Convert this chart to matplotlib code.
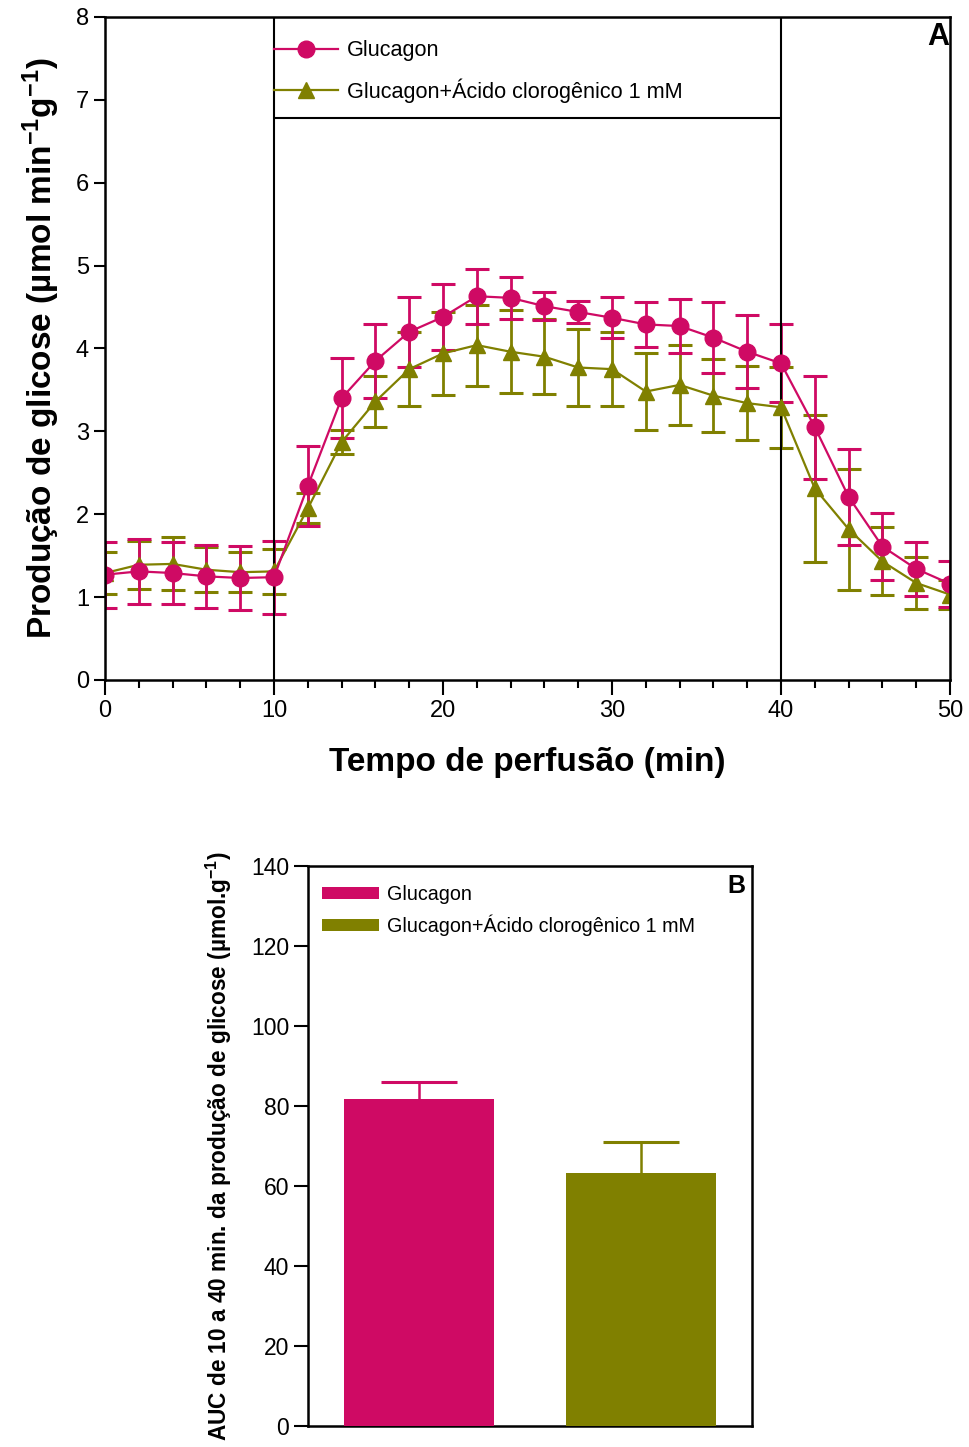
import matplotlib
matplotlib.use("Agg")
import matplotlib.pyplot as plt
from matplotlib.lines import Line2D
import numpy as np

plt.rcParams['font.family'] = ['Liberation Sans', 'DejaVu Sans']
plt.rcParams['mathtext.fontset'] = 'custom'
plt.rcParams['mathtext.rm'] = 'Liberation Sans'
plt.rcParams['mathtext.bf'] = 'Liberation Sans:bold'
plt.rcParams['mathtext.default'] = 'bf'

PINK = '#cf0a64'
OLIVE = '#808000'

# perfusion time (min)
tempo = np.arange(0, 51, 2)

# glucose output, glucagon alone
gluc_mean = [1.27, 1.31, 1.29, 1.25, 1.23, 1.24, 2.34, 3.40, 3.85, 4.20, 4.38, 4.63, 4.61,
             4.51, 4.44, 4.37, 4.29, 4.27, 4.13, 3.96, 3.82, 3.05, 2.21, 1.61, 1.34, 1.16]
gluc_sem = [0.40, 0.39, 0.37, 0.38, 0.39, 0.44, 0.48, 0.48, 0.45, 0.42, 0.40, 0.33, 0.25,
            0.17, 0.13, 0.25, 0.27, 0.33, 0.43, 0.44, 0.47, 0.62, 0.58, 0.41, 0.33, 0.28]

# glucose output, glucagon + chlorogenic acid 1 mM
acg_mean = [1.29, 1.39, 1.40, 1.33, 1.30, 1.31, 2.07, 2.87, 3.36, 3.75, 3.94, 4.04, 3.96,
            3.90, 3.77, 3.75, 3.48, 3.56, 3.43, 3.34, 3.29, 2.31, 1.82, 1.43, 1.17, 1.03]
acg_sem = [0.25, 0.29, 0.32, 0.27, 0.24, 0.27, 0.18, 0.14, 0.31, 0.45, 0.50, 0.49, 0.50,
           0.45, 0.46, 0.45, 0.46, 0.48, 0.44, 0.45, 0.49, 0.89, 0.73, 0.41, 0.31, 0.18]

# AUC 10-40 min
grupos = ['Glucagon', 'Glucagon+Ácido clorogênico 1 mM']
auc_mean = [81.8, 63.3]
auc_sem = [4.3, 7.8]

fig = plt.figure(figsize=(9.69, 14.47), dpi=100)

# ---- panel A ----
ax = fig.add_axes([0.1084, 0.5301, 0.872, 0.4582])
ax.errorbar(tempo, acg_mean, yerr=acg_sem, color=OLIVE, marker='^', markersize=12,
            lw=1.6, elinewidth=2, capsize=8.5, capthick=2.2)
ax.errorbar(tempo, gluc_mean, yerr=gluc_sem, color=PINK, marker='o', markersize=12,
            lw=1.6, elinewidth=2, capsize=8.5, capthick=2.2)

# perfusion window and legend box
ax.axvline(10, color='black', lw=1.5)
ax.axvline(40, color='black', lw=1.5)
ax.hlines(6.78, 10, 40, color='black', lw=1.5)

ax.set_xlim(0, 50)
ax.set_ylim(0, 8)
ax.set_xticks([0, 10, 20, 30, 40, 50])
ax.set_xticks(np.arange(0, 51, 2), minor=True)
ax.set_yticks(np.arange(0, 9, 1))
ax.tick_params(axis='both', which='major', labelsize=17, width=1.5, length=11, direction='out')
ax.tick_params(axis='x', which='minor', width=1.5, length=6, direction='out')
ax.tick_params(axis='y', which='major', length=8)
for s in ax.spines.values():
    s.set_linewidth(1.8)

ax.set_xlabel('Tempo de perfusão (min)', fontsize=24, fontweight='bold', labelpad=18)
ax.set_ylabel('Produção de glicose (µmol min$^{-1}$g$^{-1}$)', fontsize=24,
              fontweight='bold', labelpad=10)
ax.text(0.999, 0.992, 'A', transform=ax.transAxes, ha='right', va='top',
        fontsize=22, fontweight='bold')

leg_h = [Line2D([], [], color=PINK, marker='o', markersize=12, lw=1.6),
         Line2D([], [], color=OLIVE, marker='^', markersize=12, lw=1.6)]
ax.legend(leg_h, grupos, loc='upper left', bbox_to_anchor=(10, 7.72),
          bbox_transform=ax.transData, frameon=False, fontsize=15.6,
          handlelength=2.95, handletextpad=0.4, borderaxespad=0, borderpad=0,
          labelspacing=0.8)

# ---- panel B ----
bx = fig.add_axes([0.3179, 0.01451, 0.4582, 0.38701])
pos = np.arange(len(grupos))
cores = [PINK, OLIVE]
bx.bar(pos, auc_mean, width=0.676, color=cores, label=grupos, zorder=3)
# upper error bar only
for i in range(len(grupos)):
    topo = auc_mean[i] + auc_sem[i]
    bx.vlines(pos[i], auc_mean[i], topo, color=cores[i], lw=1.8, zorder=2)
    bx.hlines(topo, pos[i] - 0.17, pos[i] + 0.17, color=cores[i], lw=2.2, zorder=2)
bx.set_xlim(-0.5, 1.5)
bx.set_ylim(0, 140)
bx.set_xticks([])
bx.set_yticks(np.arange(0, 141, 20))
bx.tick_params(axis='y', labelsize=16.5, width=1.5, length=10, direction='out')
for s in bx.spines.values():
    s.set_linewidth(1.8)
bx.set_ylabel('AUC de 10 a 40 min. da produção de glicose (µmol.g$^{-1}$)',
              fontsize=16.3, fontweight='bold', labelpad=12)
bx.text(0.985, 0.985, 'B', transform=bx.transAxes, ha='right', va='top',
        fontsize=18, fontweight='bold')
bx.legend(loc='upper left', bbox_to_anchor=(0.0, 0.99), frameon=False, fontsize=14.2,
          handlelength=2.9, handleheight=0.55, handletextpad=0.4, borderaxespad=0.3,
          labelspacing=0.5)

fig.savefig('out.png', dpi=100)
